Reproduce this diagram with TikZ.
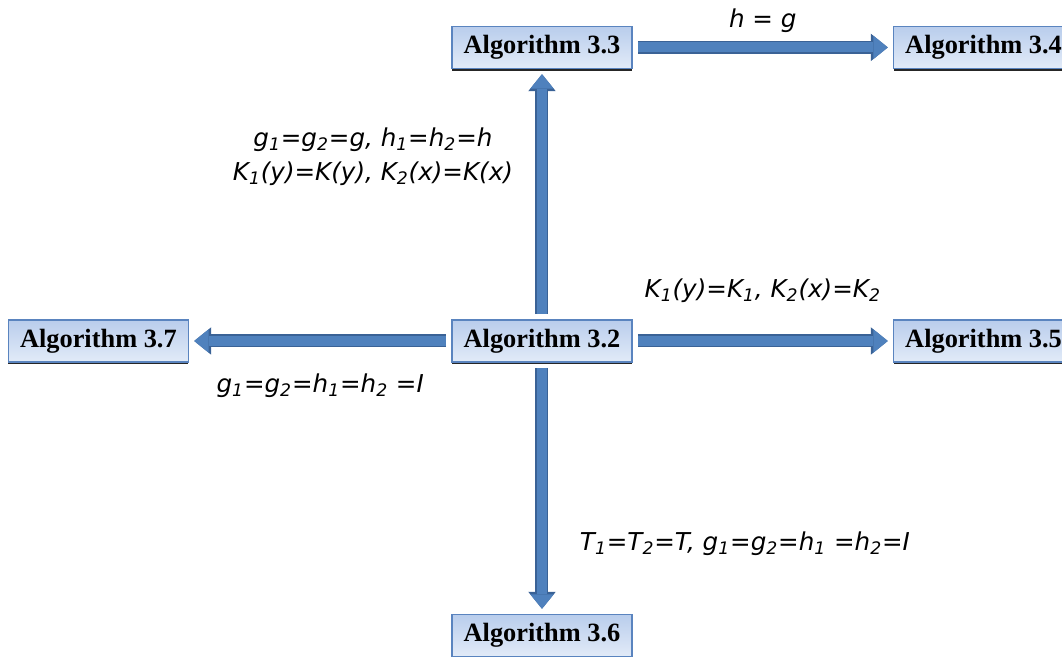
\documentclass[tikz,border=0pt]{standalone}
\usepackage{fontspec}
\setmainfont{Liberation Serif}
\newfontfamily\labelfont{DejaVu Sans}
\usetikzlibrary{arrows.meta,positioning,shadows}
\definecolor{BoxEdge}{HTML}{5A84BF}
\definecolor{BoxTop}{HTML}{B9CDEC}
\definecolor{BoxBottom}{HTML}{E2EBF8}
\definecolor{ArrowBlue}{HTML}{4F81BD}
\definecolor{ArrowEdge}{HTML}{3A6296}
\tikzset{
  algbox/.style={
    rectangle, draw=BoxEdge, line width=0.9pt, top color=BoxTop, bottom color=BoxBottom,
    minimum width=3.6cm, minimum height=0.84cm, inner sep=0pt,
    font=\fontsize{15}{17}\selectfont\bfseries,
    drop shadow={shadow xshift=0pt, shadow yshift=-1.3pt, fill=black, opacity=0.85}
  },
  lbl/.style={
    font=\labelfont\itshape\fontsize{14}{19}\selectfont, inner sep=0pt
  },
  blockflow/.style={
    shorten <=0.1cm, shorten >=0.1cm,
    preaction={draw=ArrowEdge, line width=0.26cm,
      -{Triangle[width=0.55cm,length=0.34cm,line width=0pt]}},
    draw=ArrowBlue, line width=0.2cm,
    -{Triangle[width=0.47cm,length=0.29cm,line width=0pt]}
  }
}
\begin{document}
\begin{tikzpicture}[node distance=5cm and 5.2cm]
    \useasboundingbox (-10.84,-6.32) rectangle (10.4,6.82);
    \node[algbox] (alg32) {Algorithm 3.2};
    \node[algbox,above=5.0cm of alg32] (alg33) {Algorithm 3.3};
    \node[algbox,right=5.2cm of alg33] (alg34) {Algorithm 3.4};
    \node[algbox,right=5.2cm of alg32] (alg35) {Algorithm 3.5};
    \node[algbox,left=5.24cm of alg32] (alg37) {Algorithm 3.7};
    \node[algbox,below=5.02cm of alg32] (alg36) {Algorithm 3.6};
    \draw[blockflow] (alg33)--node[lbl,above=0.2cm]{h = g}(alg34);
    \draw[blockflow] (alg32)--node[lbl,left=0.48cm,pos=0.65,align=center]{g\textsubscript{1}=g\textsubscript{2}=g, h\textsubscript{1}=h\textsubscript{2}=h\\K\textsubscript{1}(y)=K(y), K\textsubscript{2}(x)=K(x)}(alg33);
    \draw[blockflow] (alg32)--node[lbl,above=0.66cm]{K\textsubscript{1}(y)=K\textsubscript{1}, K\textsubscript{2}(x)=K\textsubscript{2}}(alg35);
    \draw[blockflow] (alg32)--node[lbl,below=0.55cm]{g\textsubscript{1}=g\textsubscript{2}=h\textsubscript{1}=h\textsubscript{2} =I}(alg37);
    \draw[blockflow] (alg32)--node[lbl,right=0.66cm,pos=0.72]{T\textsubscript{1}=T\textsubscript{2}=T, g\textsubscript{1}=g\textsubscript{2}=h\textsubscript{1} =h\textsubscript{2}=I}(alg36);
\end{tikzpicture}
\end{document}
